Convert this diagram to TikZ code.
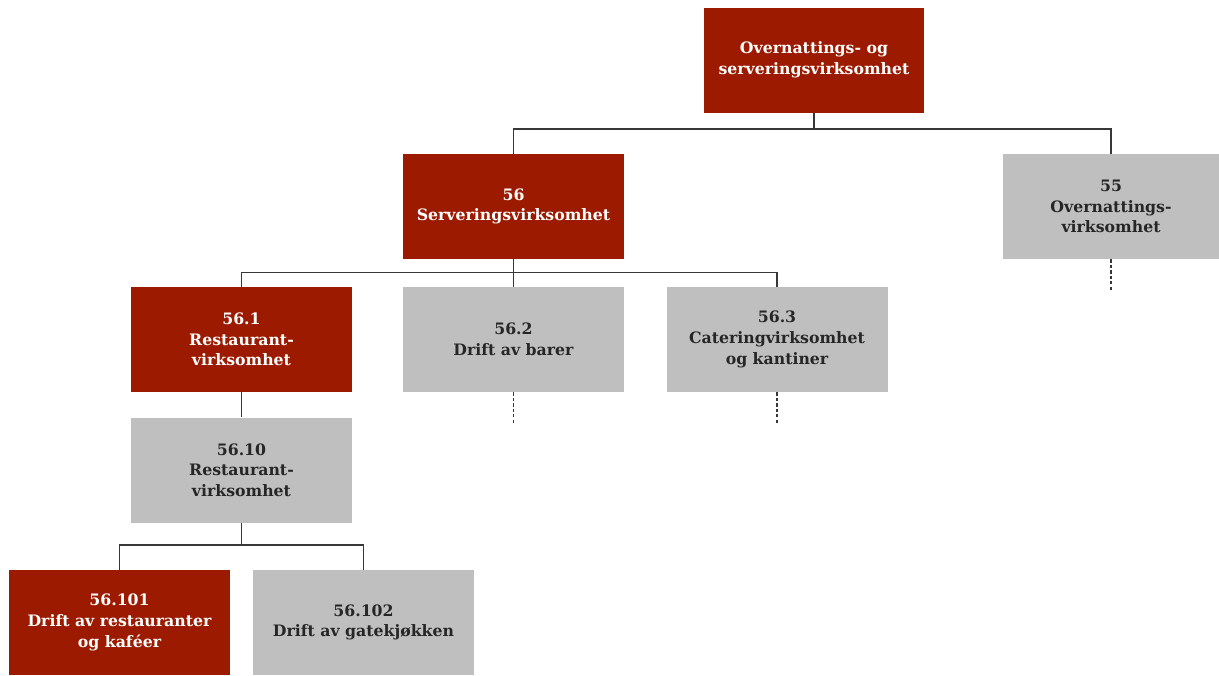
\documentclass[tikz,border=0pt]{standalone}
\usepackage{fontspec}
\setmainfont{DejaVu Serif}
\usetikzlibrary{positioning}
\definecolor{nacered}{RGB}{155,26,0}
\definecolor{nacegray}{RGB}{191,191,191}
\definecolor{linegray}{RGB}{55,55,55}
\tikzset{
  redbox/.style={
    fill=nacered, draw=none, text=white,
    minimum width=165.75pt, minimum height=78.75pt,
    font=\fontsize{11.8}{15.5}\selectfont\bfseries, inner sep=2pt, align=center,
  },
  graybox/.style={
    fill=nacegray, draw=none, text=black!85,
    minimum width=165.75pt, minimum height=78.75pt,
    font=\fontsize{11.8}{15.5}\selectfont\bfseries, inner sep=2pt, align=center,
  },
  conn/.style={draw=linegray, line width=1.1pt},
  stub/.style={draw=linegray, line width=0.9pt, dash pattern=on 2.5pt off 1.6pt},
}

\begin{document}
\begin{tikzpicture}[x=0.75pt, y=-0.75pt]
\useasboundingbox (0,0) rectangle (1219,675);

% =====================================================================
%  LEVEL 0 / 1
% =====================================================================
\node[redbox, minimum width=165pt] (top) at (814, 60) {Overnattings- og\\serveringsvirksomhet};

\node[redbox] (n56) at (513.5, 206.5) {56\\Serveringsvirksomhet};
\node[graybox, minimum width=162pt] (n55) at (1111, 206.5) {55\\Overnattings-\\virksomhet};

% =====================================================================
%  LEVEL 2
% =====================================================================
\node[redbox] (n561) at (241.5, 339.5) {56.1\\Restaurant-\\virksomhet};
\node[graybox] (n562) at (513.5, 339.5) {56.2\\Drift av barer};
\node[graybox] (n563) at (777, 339.5) {56.3\\Cateringvirksomhet\\og kantiner};

% LEVEL 3 / 4
\node[graybox] (n5610) at (241.5, 470) {56.10\\Restaurant-\\virksomhet};
\node[redbox] (n56101) at (119.5, 622.5) {56.101\\Drift av restauranter\\og kaféer};
\node[graybox] (n56102) at (363.5, 622.5) {56.102\\Drift av gatekjøkken};

% --- Connectors ---
\foreach \child in {n56, n55} {
  \draw[conn] (top.south) -- ++(0,16) -| (\child.north);
}
\foreach \child in {n561, n562, n563} {
  \draw[conn] (n56.south) -- ++(0,13) -| (\child.north);
}
\draw[conn] (n561) -- (n5610);
\foreach \child in {n56101, n56102} {
  \draw[conn] (n5610.south) -- ++(0,22) -| (\child.north);
}

% --- Dashed stubs (more below) ---
\foreach \upper in {n55, n562, n563} {
  \coordinate (\upper-end) at ([yshift=-24pt]\upper.south);
  \draw[stub] (\upper.south) -- (\upper-end);
}

\end{tikzpicture}
\end{document}
